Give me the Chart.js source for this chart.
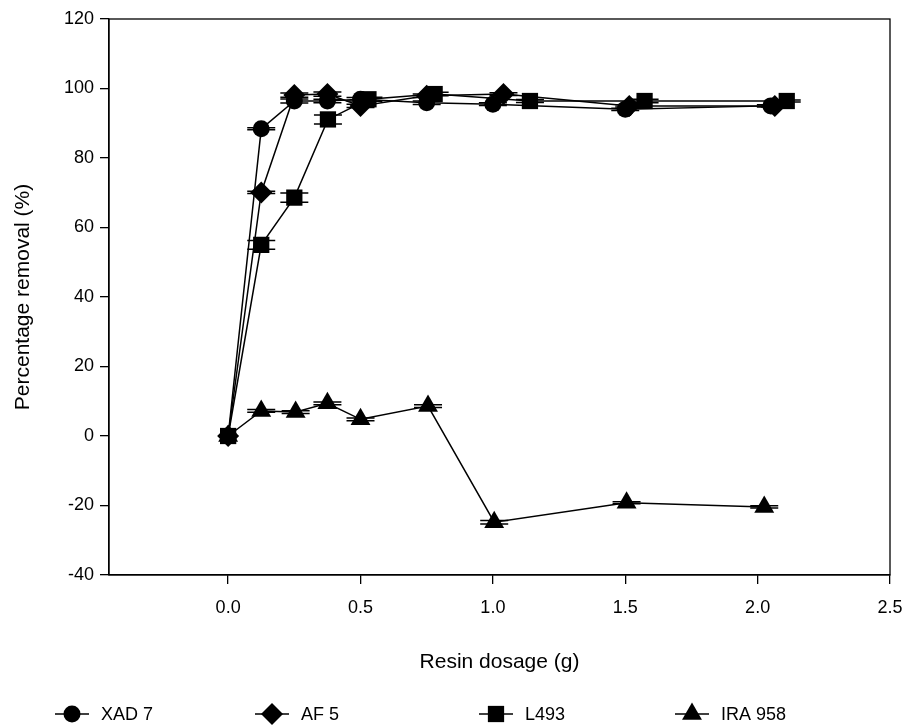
<!DOCTYPE html>
<html><head><meta charset="utf-8">
<script src="https://cdn.jsdelivr.net/npm/chart.js@4.4.0/dist/chart.umd.min.js"></script>
<style>html,body{margin:0;padding:0;background:#fff;}#wrap{width:908px;height:727px;position:relative;}</style>
</head><body><div id="wrap"><canvas id="c" width="908" height="727"></canvas></div>
<script>
const seriesNames = ['XAD 7', 'AF 5', 'L493', 'IRA 958'];
const xadX = [0, 0.125, 0.25, 0.375, 0.5, 0.75, 1.0, 1.5, 2.05];
const xadY = [0, 88.4, 96.4, 96.4, 96.9, 95.9, 95.5, 94.0, 95.0];
const xadErr = [0, 0.3, 0.6, 0.5, 0.5, 0.5, 0.4, 0.3, 0.3];
const af5X = [0, 0.125, 0.25, 0.375, 0.5, 0.75, 1.04, 1.515, 2.065];
const af5Y = [0, 70.1, 98.1, 98.4, 95.0, 97.9, 98.4, 95.0, 95.0];
const af5Err = [0, 0.3, 0.6, 0.6, 0.5, 0.5, 0.4, 0.3, 0.3];
const l493X = [0, 0.125, 0.25, 0.377, 0.53, 0.78, 1.14, 1.573, 2.11];
const l493Y = [0, 55.0, 68.6, 91.1, 96.9, 98.4, 96.4, 96.4, 96.4];
const l493Err = [0, 1.25, 1.3, 1.3, 0.6, 0.5, 0.4, 0.5, 0.3];
const ira958X = [0, 0.125, 0.255, 0.375, 0.5, 0.755, 1.005, 1.505, 2.025];
const ira958Y = [0, 7.2, 6.9, 9.4, 4.8, 8.6, -24.8, -19.2, -20.4];
const ira958Err = [0, 0.4, 0.4, 0.4, 0.4, 0.4, 0.5, 0.3, 0.3];
const xTicks = [0, 0.5, 1.0, 1.5, 2.0, 2.5];
const yTicks = [-40, -20, 0, 20, 40, 60, 80, 100, 120];
const xTitle = 'Resin dosage (g)';
const yTitle = 'Percentage removal (%)';

const FONT = '"Liberation Sans", Arial, sans-serif';
const styles = ['circle', 'rectRot', 'rect', 'triangle'];
const radii = [8.5, 11, 11.5, 11.5];
const allX = [xadX, af5X, l493X, ira958X];
const allY = [xadY, af5Y, l493Y, ira958Y];
const allErr = [xadErr, af5Err, l493Err, ira958Err];

function pts(xs, ys) { return xs.map((x, i) => ({ x: x, y: ys[i] })); }

const datasets = seriesNames.map((n, k) => ({
  label: n,
  data: pts(allX[k], allY[k]),
  showLine: true,
  borderColor: '#000',
  borderWidth: 1.5,
  backgroundColor: '#000',
  pointStyle: styles[k],
  pointRadius: radii[k],
  pointBackgroundColor: '#000',
  pointBorderColor: '#000',
  pointBorderWidth: 0,
  errs: allErr[k]
})).reverse();

function drawMarker(ctx, style, x, y, r) {
  ctx.beginPath();
  if (style === 'circle') { ctx.arc(x, y, r, 0, Math.PI * 2); }
  else if (style === 'rectRot') { ctx.moveTo(x, y - r); ctx.lineTo(x + r, y); ctx.lineTo(x, y + r); ctx.lineTo(x - r, y); ctx.closePath(); }
  else if (style === 'rect') { const s = r * Math.SQRT1_2; ctx.rect(x - s, y - s, 2 * s, 2 * s); }
  else { ctx.moveTo(x, y - r); ctx.lineTo(x + r * 0.866, y + r * 0.5); ctx.lineTo(x - r * 0.866, y + r * 0.5); ctx.closePath(); }
  ctx.fill();
}

const errPlugin = {
  id: 'errbars',
  beforeDatasetsDraw(chart) {
    const ctx = chart.ctx, ys = chart.scales.y;
    ctx.save();
    ctx.strokeStyle = '#000'; ctx.lineWidth = 1.5;
    chart.data.datasets.forEach((ds, di) => {
      const meta = chart.getDatasetMeta(di);
      meta.data.forEach((el, i) => {
        const e = ds.errs[i];
        if (!e) return;
        const v = ds.data[i].y;
        const y1 = ys.getPixelForValue(v + e), y2 = ys.getPixelForValue(v - e);
        const x = el.x, hw = 14;
        ctx.beginPath();
        ctx.moveTo(x, y1); ctx.lineTo(x, y2);
        ctx.moveTo(x - hw, y1); ctx.lineTo(x + hw, y1);
        ctx.moveTo(x - hw, y2); ctx.lineTo(x + hw, y2);
        ctx.stroke();
      });
    });
    ctx.restore();
  }
};

const framePlugin = {
  id: 'frame',
  afterDraw(chart) {
    const ctx = chart.ctx, a = chart.chartArea;
    ctx.save();
    ctx.strokeStyle = '#000'; ctx.lineWidth = 1.3;
    ctx.strokeRect(a.left, a.top, a.right - a.left, a.bottom - a.top);
    ctx.fillStyle = '#000';
    ctx.font = '21px ' + FONT;
    ctx.textAlign = 'center'; ctx.textBaseline = 'middle';
    ctx.fillText(xTitle, (a.left + a.right) / 2, 662);
    ctx.save();
    ctx.translate(23, (a.top + a.bottom) / 2);
    ctx.rotate(-Math.PI / 2);
    ctx.fillText(yTitle, 0, 0);
    ctx.restore();
    // legend
    const mx = [72, 272, 496, 692];
    const ly = 714;
    ctx.font = '18px ' + FONT;
    ctx.textAlign = 'left';
    ctx.lineWidth = 1.5;
    seriesNames.forEach((n, k) => {
      ctx.beginPath(); ctx.moveTo(mx[k] - 17, ly); ctx.lineTo(mx[k] + 17, ly); ctx.stroke();
      drawMarker(ctx, styles[k], mx[k], ly, radii[k]);
      ctx.fillText(n, mx[k] + 29, ly + 1);
    });
    ctx.restore();
  }
};

new Chart(document.getElementById('c'), {
  type: 'scatter',
  data: { datasets: datasets },
  options: {
    responsive: false,
    animation: false,
    devicePixelRatio: 1,
    layout: { padding: { top: 19, right: 18, left: 0, bottom: 0 } },
    plugins: { legend: { display: false }, tooltip: { enabled: false } },
    scales: {
      x: {
        type: 'linear', min: -0.45, max: 2.5,
        afterBuildTicks: s => { s.ticks = xTicks.map(v => ({ value: v })); },
        afterFit: s => { s.height = 152; s.paddingLeft = 0; s.paddingRight = 0; },
        ticks: { color: '#000', font: { family: FONT, size: 18 }, padding: 13, maxRotation: 0, autoSkip: false,
          callback: v => Number(v).toFixed(1) },
        grid: { drawOnChartArea: false, drawTicks: true, tickLength: 9, color: '#000', lineWidth: 1.3 },
        border: { display: true, color: '#000', width: 1.3 }
      },
      y: {
        type: 'linear', min: -40, max: 120,
        afterBuildTicks: s => { s.ticks = yTicks.map(v => ({ value: v })); },
        afterFit: s => { s.width = 109; s.paddingTop = 0; s.paddingBottom = 0; },
        ticks: { color: '#000', font: { family: FONT, size: 18 }, padding: 6, autoSkip: false },
        grid: { drawOnChartArea: false, drawTicks: true, tickLength: 9, color: '#000', lineWidth: 1.3 },
        border: { display: true, color: '#000', width: 1.3 }
      }
    }
  },
  plugins: [errPlugin, framePlugin]
});
</script></body></html>
